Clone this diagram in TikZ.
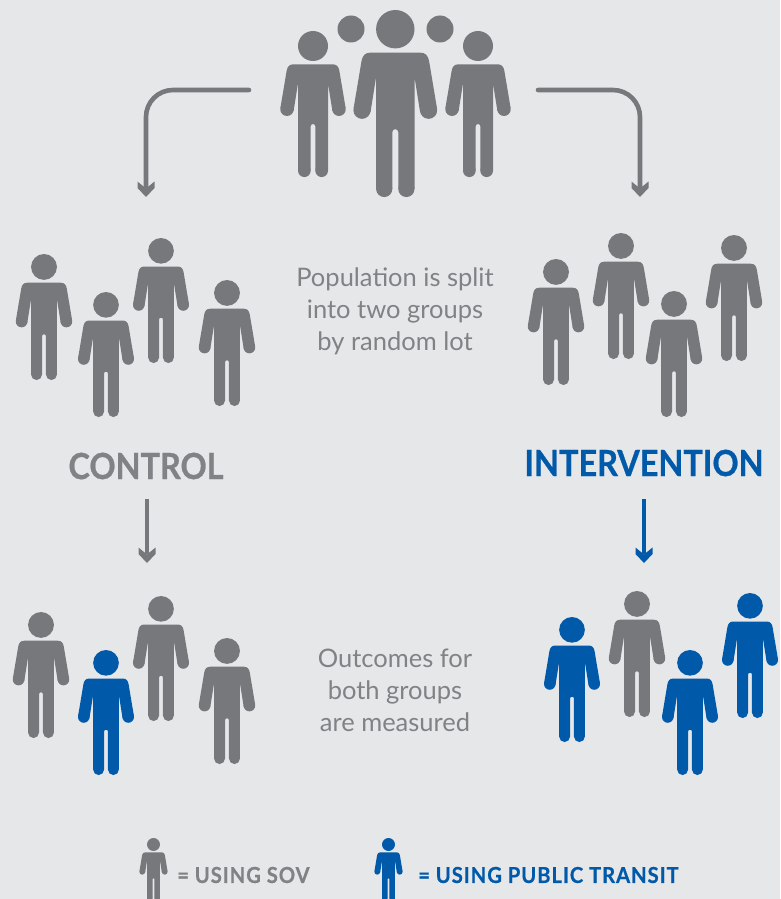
\documentclass[tikz,border=0pt]{standalone}
\usepackage{fontspec}
\setmainfont{Lato}
\newfontfamily\capfont{Lato}
\newfontfamily\headfont[FakeStretch=0.9,BoldFeatures={FakeBold=0.7}]{Lato}
\newfontfamily\keyfont[FakeStretch=0.92,LetterSpace=4.2,BoldFeatures={FakeBold=0.5}]{Lato}
\usetikzlibrary{arrows.meta}
\definecolor{pgray}{HTML}{77787B}
\definecolor{tgray}{HTML}{808285}
\definecolor{pblue}{HTML}{0159A9}
\definecolor{bgc}{HTML}{E6E7E9}
\pgfdeclarearrow{
  name=Chevron,
  setup code={%
    \pgfarrowssettipend{15.5pt}%
    \pgfarrowssetlineend{6pt}%
    \pgfarrowssetbackend{0pt}%
    \pgfarrowssetvisualbackend{6pt}%
    \pgfarrowshullpoint{15.5pt}{0pt}%
    \pgfarrowshullpoint{0pt}{8.5pt}%
    \pgfarrowshullpoint{0pt}{-8.5pt}%
  },
  drawing code={%
    \pgfpathmoveto{\pgfqpoint{15.5pt}{0pt}}%
    \pgfpathlineto{\pgfqpoint{6.5pt}{8.5pt}}%
    \pgfpathlineto{\pgfqpoint{0pt}{8.5pt}}%
    \pgfpathlineto{\pgfqpoint{7pt}{0pt}}%
    \pgfpathlineto{\pgfqpoint{0pt}{-8.5pt}}%
    \pgfpathlineto{\pgfqpoint{6.5pt}{-8.5pt}}%
    \pgfpathclose
    \pgfusepathqfill
  }
}
\newcommand{\personfig}[4]{%
  \begin{scope}[shift={(#1,#2)},scale=#3/146]
    \fill[#4] (0,15) circle[radius=15];
    \fill[#4] (-19.5,33.3) -- (19.5,33.3) .. controls (23.5,33.3) and (25.6,35.5) .. (26.4,40)
      -- (32.6,77) -- (19.4,80) -- (15,52.3) -- (15,139.7) -- (2.3,139.7) -- (2.3,95.3)
      .. controls (2.3,92.3) and (-2.3,92.3) .. (-2.3,95.3) -- (-2.3,139.7) -- (-15,139.7)
      -- (-15,52.3) -- (-19.4,80) -- (-32.6,77) -- (-26.4,40)
      .. controls (-25.6,35.5) and (-23.5,33.3) .. (-19.5,33.3) -- cycle;
    \fill[#4] (26,78.3) circle[radius=6.7];
    \fill[#4] (-26,78.3) circle[radius=6.7];
    \fill[#4] (8.65,139.7) circle[radius=6.35];
    \fill[#4] (-8.65,139.7) circle[radius=6.35];
  \end{scope}}
\tikzset{
  flow/.style={draw=pgray,line width=4.6pt,-{Chevron}},
  flowblue/.style={draw=pblue,line width=4.6pt,-{Chevron}},
  caption/.style={font=\fontsize{25.5}{32}\capfont,text=tgray,align=center,inner sep=0pt},
  grouplabel/.style={font=\fontsize{36}{40}\headfont\bfseries,inner sep=0pt},
  keylabel/.style={font=\fontsize{22}{26}\keyfont\bfseries,inner sep=0pt,anchor=west}
}
\begin{document}
\begin{tikzpicture}[x=1pt,y=-1pt]
\path[use as bounding box,fill=bgc] (0,0) rectangle (780,899);
\begin{scope}
\clip (0,0) rectangle (780,899);
% top group
\fill[pgray] (351,29) circle[radius=13.5];
\fill[pgray] (440,29) circle[radius=13.5];
\personfig{313}{31}{146}{pgray}
\personfig{395.3}{10}{187}{pgray}
\personfig{478}{31}{146}{pgray}
% control
\personfig{44}{254}{126}{pgray}
\personfig{106}{292}{125}{pgray}
\personfig{161}{238}{125}{pgray}
\personfig{227}{280}{126}{pgray}
% intervention
\personfig{556}{259}{126}{pgray}
\personfig{621}{233}{126}{pgray}
\personfig{674}{291}{126}{pgray}
\personfig{734}{235}{126}{pgray}
% outcomes control
\personfig{41}{612}{126}{pgray}
\personfig{106}{650}{125}{pblue}
\personfig{161}{596}{125}{pgray}
\personfig{227}{638}{126}{pgray}
% outcomes intervention
\personfig{572}{617}{125}{pblue}
\personfig{637}{591}{126}{pgray}
\personfig{690}{650}{125}{pblue}
\personfig{750}{593}{125}{pblue}
% legend
\personfig{153.5}{838}{63}{pgray}
\personfig{388.5}{838}{63}{pblue}
\end{scope}
% texts
\node[caption] (split) at (395,311) {Population is split\\into two groups\\by random lot};
\node[caption] (measured) at (395,690.5) {Outcomes for\\both groups\\are measured};
\node[grouplabel,text=tgray] (control) at (146,466) {CONTROL};
\node[grouplabel,text=pblue] (intervention) at (644,463) {INTERVENTION};
\node[keylabel,text=tgray] (keysov) at (177,875) {= USING SOV};
\node[keylabel,text=pblue] (keytransit) at (418,875) {= USING PUBLIC TRANSIT};
% connectors
\coordinate (popL) at (249,90);
\coordinate (popR) at (538,90);
\coordinate (ctrlTop) at (146,197);
\coordinate (intTop) at (640,197);
\coordinate (ctrlStart) at (147,499);
\coordinate (intStart) at (644,499);
\coordinate (ctrlOut) at (147,563);
\coordinate (intOut) at (644,563);
\draw[flow,rounded corners=27pt,line cap=round] (popL) -- (ctrlTop |- popL) -- (ctrlTop);
\draw[flow,rounded corners=27pt,line cap=round] (popR) -- (intTop |- popR) -- (intTop);
\draw[flow] (ctrlStart) -- (ctrlOut);
\draw[flowblue] (intStart) -- (intOut);
\end{tikzpicture}
\end{document}
